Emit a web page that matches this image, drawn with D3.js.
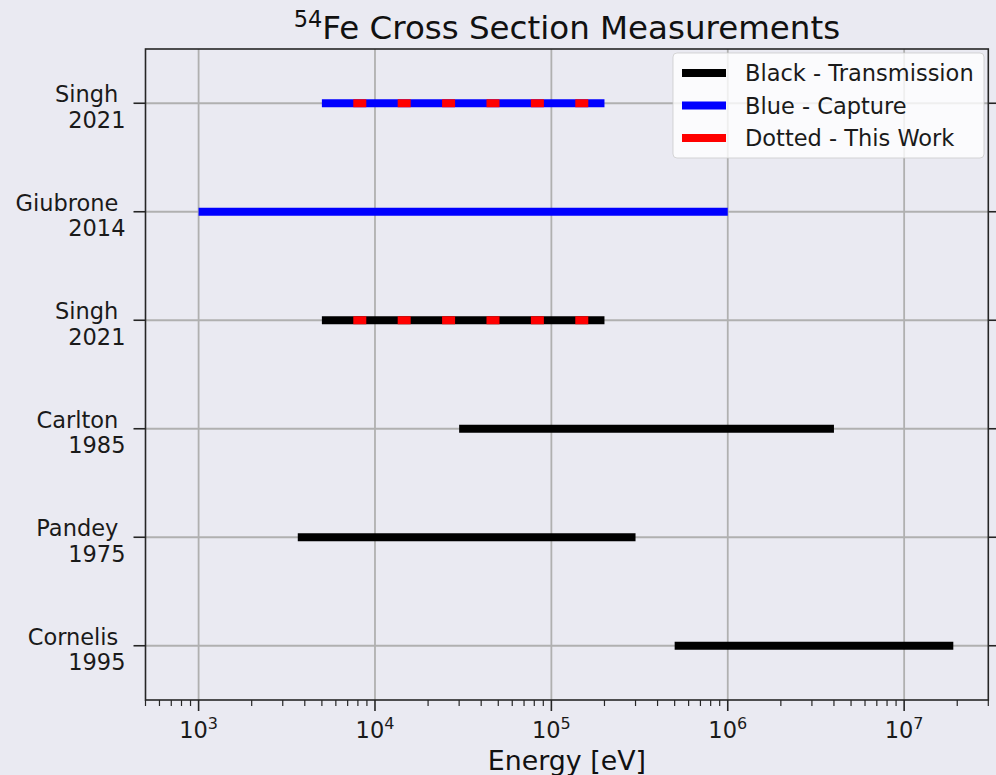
<!DOCTYPE html>
<html>
<head>
<meta charset="utf-8">
<script src="https://cdn.jsdelivr.net/npm/d3@7"></script>
<style>
  body { margin: 0; background: #eaeaf2; }
  svg { display: block; font-family: "DejaVu Sans", sans-serif; }
</style>
</head>
<body>
<script>
// measurements, bottom row first
var names = ["Cornelis", "Pandey", "Carlton", "Singh", "Giubrone", "Singh"];
var years = ["1995", "1975", "1985", "2021", "2014", "2021"];
var eLow = [5e5, 3.65e3, 3e4, 5e3, 1e3, 5e3];
var eHigh = [1.9e7, 3e5, 4e6, 2e5, 1e6, 2e5];
var kinds = ["Transmission", "Transmission", "Transmission", "Transmission", "Capture", "Capture"];
var thisWork = [false, false, false, true, false, true];

var legendLabels = ["Black - Transmission", "Blue - Capture", "Dotted - This Work"];
var legendColors = ["#000000", "#0000ff", "#ff0000"];
var xTickExp = [3, 4, 5, 6, 7];

var svgWidth = 996;
var svgHeight = 775;

var margin = { top: 49, right: 7.7, bottom: 75, left: 145.5 };
var width = svgWidth - margin.left - margin.right;
var height = svgHeight - margin.top - margin.bottom;

var svg = d3.select("body")
  .append("svg")
  .attr("width", svgWidth)
  .attr("height", svgHeight);

svg.append("rect")
  .attr("width", svgWidth)
  .attr("height", svgHeight)
  .attr("fill", "#eaeaf2");

var chart = svg.append("g")
  .attr("transform", `translate(${margin.left}, ${margin.top})`);

var x = d3.scaleLog()
  .domain([500, 3e7])
  .range([0, width]);

var y = d3.scaleLinear()
  .domain([-0.5, 5.5])
  .range([height, 0]);

var kindColor = { Transmission: "#000000", Capture: "#0000ff" };

// grid
var majorTicks = xTickExp.map(function(e) { return Math.pow(10, e); });
chart.append("g").selectAll("line")
  .data(majorTicks)
  .enter().append("line")
  .attr("x1", d => x(d)).attr("x2", d => x(d))
  .attr("y1", 0).attr("y2", height)
  .attr("stroke", "#b0b0b0")
  .attr("stroke-width", 1.8);

chart.append("g").selectAll("line")
  .data(names)
  .enter().append("line")
  .attr("x1", 0).attr("x2", width)
  .attr("y1", (d, i) => y(i)).attr("y2", (d, i) => y(i))
  .attr("stroke", "#b0b0b0")
  .attr("stroke-width", 1.8);

// ranges
var bars = chart.append("g");
bars.selectAll("line.range")
  .data(names)
  .enter().append("line")
  .attr("class", "range")
  .attr("x1", (d, i) => x(eLow[i]))
  .attr("x2", (d, i) => x(eHigh[i]))
  .attr("y1", (d, i) => y(i))
  .attr("y2", (d, i) => y(i))
  .attr("stroke", (d, i) => kindColor[kinds[i]])
  .attr("stroke-width", 8);

// red dashes over "this work" rows
var workIdx = names.map((d, i) => i).filter(i => thisWork[i]);
bars.selectAll("line.work")
  .data(workIdx)
  .enter().append("line")
  .attr("class", "work")
  .attr("x1", i => x(eLow[i]))
  .attr("x2", i => x(eHigh[i]))
  .attr("y1", i => y(i))
  .attr("y2", i => y(i))
  .attr("stroke", "#ff0000")
  .attr("stroke-width", 8)
  .attr("stroke-dasharray", "13,31.4")
  .attr("stroke-dashoffset", 13);

// bottom axis
var minorTicks = [];
for (var e = 2; e <= 7; e++) {
  for (var m = 2; m < 10; m++) {
    var v = m * Math.pow(10, e);
    if (v >= 500 && v <= 3e7) minorTicks.push(v);
  }
}

chart.append("g").selectAll("line")
  .data(minorTicks)
  .enter().append("line")
  .attr("x1", d => x(d)).attr("x2", d => x(d))
  .attr("y1", height).attr("y2", height + 6)
  .attr("stroke", "#262626")
  .attr("stroke-width", 1.2);

chart.append("g").selectAll("line")
  .data(majorTicks)
  .enter().append("line")
  .attr("x1", d => x(d)).attr("x2", d => x(d))
  .attr("y1", height).attr("y2", height + 11)
  .attr("stroke", "#262626")
  .attr("stroke-width", 1.6);

var xLabels = chart.append("g").selectAll("text")
  .data(xTickExp)
  .enter().append("text")
  .attr("x", d => x(Math.pow(10, d)))
  .attr("y", height + 38)
  .attr("text-anchor", "middle")
  .attr("font-size", "22.5px")
  .attr("fill", "#1a1a1a");
xLabels.append("tspan").text("10");
xLabels.append("tspan")
  .attr("dy", -9.5)
  .attr("font-size", "16px")
  .text(d => d);

// y ticks left and right
chart.append("g").selectAll("line")
  .data(names)
  .enter().append("line")
  .attr("x1", -12).attr("x2", 0)
  .attr("y1", (d, i) => y(i)).attr("y2", (d, i) => y(i))
  .attr("stroke", "#262626")
  .attr("stroke-width", 1.6);

chart.append("g").selectAll("line")
  .data(names)
  .enter().append("line")
  .attr("x1", width).attr("x2", width + 8)
  .attr("y1", (d, i) => y(i)).attr("y2", (d, i) => y(i))
  .attr("stroke", "#262626")
  .attr("stroke-width", 1.6);

var yLabels = chart.append("g").selectAll("text")
  .data(names)
  .enter().append("text")
  .attr("text-anchor", "end")
  .attr("font-size", "22.5px")
  .attr("fill", "#1a1a1a")
  .style("white-space", "pre");
yLabels.append("tspan")
  .attr("x", -20)
  .attr("y", (d, i) => y(i) - 1)
  .text(d => d + " ");
yLabels.append("tspan")
  .attr("x", -20)
  .attr("y", (d, i) => y(i) + 24.5)
  .text((d, i) => years[i]);

// frame
chart.append("rect")
  .attr("width", width)
  .attr("height", height)
  .attr("fill", "none")
  .attr("stroke", "#262626")
  .attr("stroke-width", 1.6);

// legend
var legend = chart.append("g")
  .attr("transform", "translate(" + (673 - margin.left) + "," + (53 - margin.top) + ")");

legend.append("rect")
  .attr("width", 311)
  .attr("height", 105)
  .attr("rx", 4)
  .attr("fill", "#ffffff")
  .attr("fill-opacity", 0.8)
  .attr("stroke", "#cccccc")
  .attr("stroke-opacity", 0.8);

var items = legend.selectAll("g.item")
  .data(legendLabels)
  .enter().append("g")
  .attr("transform", (d, i) => "translate(0," + (20 + i * 32.5) + ")");

items.append("line")
  .attr("x1", 9).attr("x2", 53)
  .attr("stroke", (d, i) => legendColors[i])
  .attr("stroke-width", 8);

items.append("text")
  .attr("x", 72)
  .attr("y", 8)
  .attr("font-size", "22.5px")
  .attr("fill", "#1a1a1a")
  .text(d => d);

// title and axis label
var title = svg.append("text")
  .attr("x", margin.left + width / 2)
  .attr("y", 39)
  .attr("text-anchor", "middle")
  .attr("font-size", "32.5px")
  .attr("fill", "#111");
title.append("tspan")
  .attr("font-size", "22.5px")
  .attr("dy", -12)
  .text("54");
title.append("tspan")
  .attr("dy", 12)
  .text("Fe Cross Section Measurements");

svg.append("text")
  .attr("x", margin.left + width / 2)
  .attr("y", 770)
  .attr("text-anchor", "middle")
  .attr("font-size", "26.8px")
  .attr("fill", "#111")
  .text("Energy [eV]");
</script>
</body>
</html>
